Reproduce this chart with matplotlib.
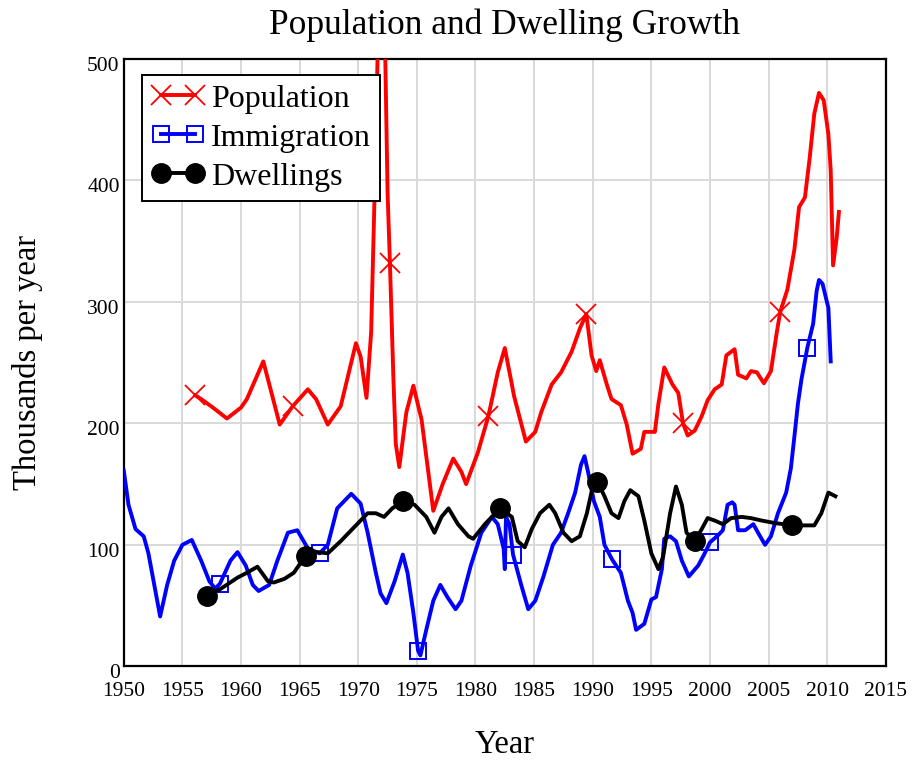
import numpy as np
import matplotlib
matplotlib.use("Agg")
import matplotlib.pyplot as plt
import matplotlib.transforms as mtransforms

# values, thousands per year
pop_year = [1956.1, 1956.6, 1957.6, 1958.8, 1960.0, 1960.5, 1961.9, 1962.6, 1963.3,
            1964.4, 1965.7, 1966.4, 1967.4, 1968.5, 1969.8, 1970.2, 1970.7, 1971.1,
            1971.4, 1971.6, 1971.9, 1972.2, 1972.5, 1972.7, 1973.0, 1973.2, 1973.5,
            1974.1, 1974.7, 1975.4, 1976.4, 1977.2, 1978.1, 1978.8, 1979.2, 1980.2,
            1981.1, 1981.9, 1982.5, 1983.3, 1984.3, 1985.1, 1985.6, 1986.5, 1987.3,
            1988.2, 1988.9, 1989.45, 1989.9, 1990.3, 1990.6, 1991.2, 1991.6, 1992.4,
            1992.9, 1993.4, 1994.1, 1994.4, 1995.3, 1995.6, 1996.1, 1996.8, 1997.3,
            1997.7, 1998.1, 1998.7, 1999.3, 1999.8, 2000.4, 2001.0, 2001.4, 2002.1,
            2002.4, 2003.1, 2003.5, 2004.0, 2004.6, 2005.2, 2005.7, 2006.0, 2006.6,
            2007.2, 2007.6, 2008.1, 2008.5, 2008.9, 2009.3, 2009.7, 2010.1, 2010.3,
            2010.5, 2010.8, 2011.0]
pop_val = [223, 220, 213, 204, 213, 220, 251, 225, 199,
           214, 228, 220, 199, 214, 266, 255, 221, 275,
           391, 480, 620, 560, 390, 332, 236, 183, 164,
           209, 231, 203, 128, 150, 171, 160, 150, 176,
           206, 242, 262, 222, 185, 193, 209, 232, 242,
           259, 278, 290, 256, 243, 252, 232, 220, 215,
           199, 175, 179, 193, 193, 216, 246, 232, 225,
           200, 190, 194, 206, 219, 228, 232, 256, 261,
           240, 237, 243, 242, 233, 243, 275, 292, 310,
           343, 378, 386, 418, 455, 472, 466, 438, 408,
           330, 352, 374]
pop_marks = [1956.1, 1964.4, 1972.7, 1981.1, 1989.45, 1997.7, 2006.0]

imm_year = [1950.0, 1950.4, 1951.0, 1951.7, 1952.1, 1952.6, 1953.1, 1953.7, 1954.3,
            1955.0, 1955.8, 1956.6, 1957.3, 1957.8, 1958.2, 1959.1, 1959.7, 1960.4,
            1961.0, 1961.5, 1962.4, 1963.1, 1964.0, 1964.8, 1965.7, 1966.7, 1967.4,
            1968.2, 1969.4, 1970.2, 1970.8, 1971.5, 1971.9, 1972.4, 1973.1, 1973.8,
            1974.2, 1974.7, 1975.1, 1975.3, 1975.8, 1976.4, 1977.0, 1977.6, 1978.3,
            1978.8, 1979.6, 1980.5, 1981.4, 1981.9, 1982.4, 1982.5, 1982.6, 1982.9,
            1983.2, 1983.9, 1984.5, 1985.1, 1985.8, 1986.6, 1987.3, 1987.9, 1988.5,
            1989.0, 1989.3, 1989.6, 1990.1, 1990.6, 1991.0, 1991.65, 1992.4, 1993.0,
            1993.4, 1993.7, 1994.4, 1995.0, 1995.4, 1995.9, 1996.1, 1996.6, 1997.1,
            1997.6, 1998.2, 1999.0, 1999.5, 2000.0, 2000.7, 2001.1, 2001.5, 2001.9,
            2002.1, 2002.4, 2003.0, 2003.7, 2004.1, 2004.7, 2005.2, 2005.8, 2006.5,
            2006.9, 2007.2, 2007.5, 2007.8, 2008.3, 2008.8, 2009.1, 2009.3, 2009.6,
            2010.1, 2010.3]
imm_val = [161, 133, 113, 107, 93, 67, 41, 67, 87,
           100, 104, 87, 70, 64, 68, 87, 94, 83,
           67, 62, 67, 87, 110, 112, 97, 93, 100,
           130, 142, 134, 110, 77, 60, 52, 70, 92,
           77, 44, 13, 9, 30, 54, 67, 57, 47,
           54, 83, 110, 123, 117, 97, 80, 123, 117,
           92, 67, 47, 54, 74, 100, 110, 126, 143,
           166, 173, 160, 136, 123, 100, 88, 77, 54,
           44, 30, 35, 55, 57, 80, 105, 107, 103,
           87, 74, 83, 92, 102, 108, 112, 133, 135,
           133, 112, 112, 117, 110, 100, 107, 126, 143,
           163, 189, 216, 236, 262, 282, 309, 318, 315,
           295, 251]
imm_marks = [1958.2, 1966.7, 1975.1, 1983.2, 1991.65, 2000.0, 2008.3]

dwl_year = [1957.1, 1958.3, 1959.7, 1960.5, 1961.4, 1962.3, 1962.8, 1963.7, 1964.5,
            1965.5, 1966.5, 1967.4, 1968.5, 1969.7, 1970.8, 1971.5, 1972.2, 1972.9,
            1973.8, 1974.8, 1975.8, 1976.5, 1977.1, 1977.7, 1978.5, 1979.4, 1979.8,
            1980.8, 1981.6, 1982.1, 1983.1, 1983.6, 1984.2, 1984.8, 1985.5, 1986.3,
            1986.8, 1987.5, 1988.2, 1988.9, 1989.5, 1990.0, 1990.4, 1991.0, 1991.6,
            1992.2, 1992.7, 1993.2, 1993.9, 1994.4, 1995.0, 1995.6, 1996.0, 1996.6,
            1997.1, 1997.6, 1998.0, 1998.7, 1999.3, 1999.8, 2000.4, 2001.1, 2001.8,
            2002.7, 2003.5, 2004.4, 2005.5, 2007.0, 2008.9, 2009.5, 2010.1, 2010.7]
dwl_val = [58, 64, 73, 77, 82, 70, 69, 72, 77,
           91, 94, 93, 103, 115, 126, 126, 123, 130,
           136, 133, 123, 110, 123, 130, 117, 107, 105,
           117, 125, 130, 123, 103, 98, 113, 126, 133,
           126, 110, 103, 107, 126, 148, 152, 140, 126,
           122, 136, 145, 140, 120, 93, 80, 90, 126,
           148, 133, 110, 103, 113, 122, 120, 117, 122,
           123, 122, 120, 118, 116, 116, 126, 143, 140]
dwl_marks = [1957.1, 1965.5, 1973.8, 1982.1, 1990.4, 1998.7, 2007.0]


def mark_idx(years, marks):
    years = np.asarray(years)
    return [int(np.argmin(np.abs(years - m))) for m in marks]


plt.rcParams["font.family"] = ["Liberation Serif", "DejaVu Serif"]

fig = plt.figure(figsize=(9.17, 7.65), dpi=100)
ax = fig.add_axes([0.135, 0.129, 0.831, 0.794])

lw = 2.8
ax.plot(pop_year, pop_val, color="red", lw=lw, marker="x", ms=14, mew=1.3,
        markevery=mark_idx(pop_year, pop_marks), label="Population", zorder=4)
ax.plot(imm_year, imm_val, color="blue", lw=lw, marker="s", ms=11, mew=1.4,
        mfc="none", markevery=mark_idx(imm_year, imm_marks), label="Immigration", zorder=3)
ax.plot(dwl_year, dwl_val, color="black", lw=lw, marker="o", ms=14,
        markevery=mark_idx(dwl_year, dwl_marks), label="Dwellings", zorder=3)

ax.set_xlim(1950, 2015)
ax.set_ylim(0, 500)
ax.set_xticks(np.arange(1950, 2016, 5))
ax.set_yticks(np.arange(0, 501, 100))
ax.grid(True, color="#d9d9d9", lw=1.4)
ax.set_axisbelow(True)
ax.tick_params(length=0, labelsize=15.5)
ax.tick_params(axis="x", pad=11)
ax.tick_params(axis="y", pad=3)
# y labels sit a little below their grid lines in the reference
shift = mtransforms.ScaledTranslation(0, -5 / 100, fig.dpi_scale_trans)
for lab in ax.get_yticklabels():
    lab.set_transform(lab.get_transform() + shift)
for sp in ax.spines.values():
    sp.set_linewidth(1.6)

ax.set_title("Population and Dwelling Growth", fontsize=25.5, pad=18)
ax.set_xlabel("Year", fontsize=23.5, labelpad=21)
ax.set_ylabel("Thousands per year", fontsize=23.5, labelpad=32)

leg = ax.legend(loc="upper left", bbox_to_anchor=(0.024, 0.974), fontsize=23,
                numpoints=2, handlelength=1.65, frameon=True, fancybox=False,
                borderpad=0.3, labelspacing=0.3, handletextpad=0.2,
                borderaxespad=0)
leg.get_frame().set_edgecolor("black")
leg.get_frame().set_linewidth(1.4)
leg.get_frame().set_alpha(1)

fig.savefig("out.png", dpi=100)
